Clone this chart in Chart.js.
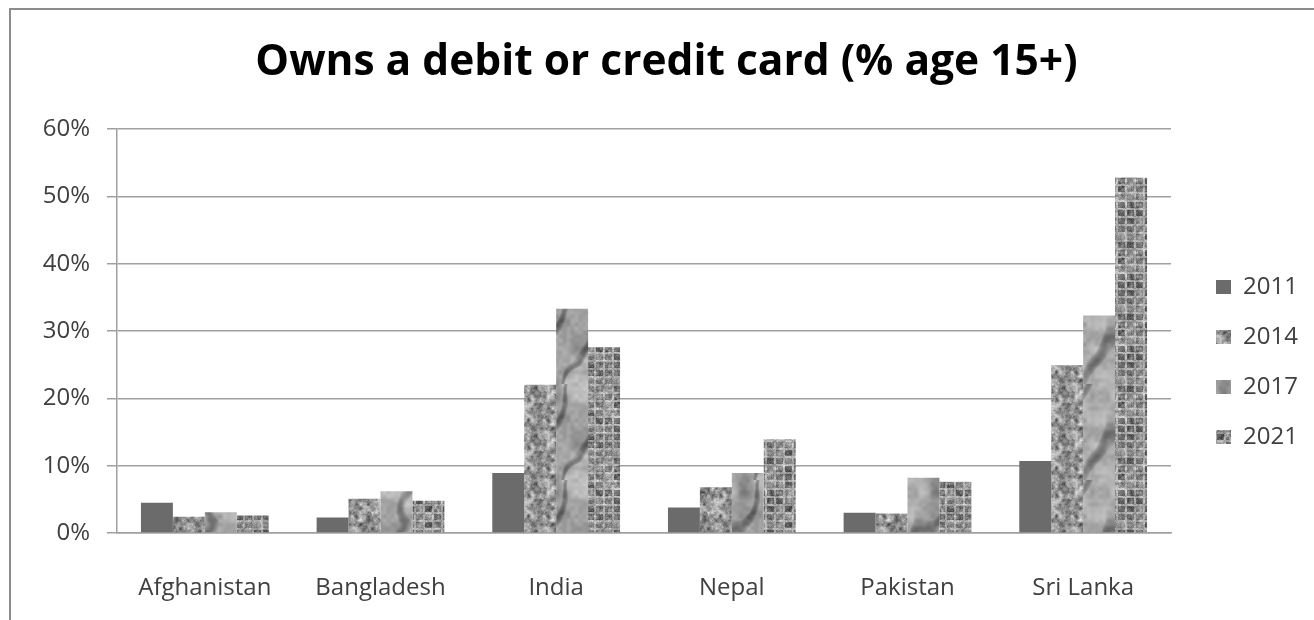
<!DOCTYPE html>
<html><head><meta charset="utf-8">
<script src="https://cdn.jsdelivr.net/npm/chart.js@4/dist/chart.umd.min.js"></script>
<style>html,body{margin:0;padding:0;background:#fff}#wrap{width:1314px;height:620px;position:relative}canvas{display:block}</style>
</head><body><div id="wrap"><canvas id="c" width="1314" height="620"></canvas></div>
<script>
const categories = ['Afghanistan', 'Bangladesh', 'India', 'Nepal', 'Pakistan', 'Sri Lanka'];
const seriesLabels = ['2011', '2014', '2017', '2021'];
const v2011 = [4.5, 2.3, 8.9, 3.8, 3.0, 10.7];
const v2014 = [2.4, 5.1, 22.0, 6.8, 2.9, 24.9];
const v2017 = [3.1, 6.2, 33.3, 8.9, 8.2, 32.3];
const v2021 = [2.6, 4.8, 27.6, 13.9, 7.6, 52.8];
const yTickValues = [0, 10, 20, 30, 40, 50, 60];
const titleText = 'Owns a debit or credit card (% age 15+)';

// ---- deterministic textures (styling only) ----
function hash(x, y, s) {
  let h = (x * 374761393 + y * 668265263 + s * 982451653) | 0;
  h = Math.imul(h ^ (h >>> 13), 1274126177);
  h = h ^ (h >>> 16);
  return (h >>> 0) / 4294967295;
}
function vnoise(x, y, cell, size, seed) {
  const n = size / cell;
  const gx = x / cell, gy = y / cell;
  const x0 = Math.floor(gx), y0 = Math.floor(gy);
  const fx = gx - x0, fy = gy - y0;
  const sx = fx * fx * (3 - 2 * fx), sy = fy * fy * (3 - 2 * fy);
  const w = (a) => ((a % n) + n) % n;
  const a = hash(w(x0), w(y0), seed), b = hash(w(x0 + 1), w(y0), seed);
  const c = hash(w(x0), w(y0 + 1), seed), d = hash(w(x0 + 1), w(y0 + 1), seed);
  return (a * (1 - sx) + b * sx) * (1 - sy) + (c * (1 - sx) + d * sx) * sy;
}
function makeTexture(size, fn) {
  const cv = document.createElement('canvas');
  cv.width = size; cv.height = size;
  const cx = cv.getContext('2d');
  const img = cx.createImageData(size, size);
  for (let y = 0; y < size; y++) for (let x = 0; x < size; x++) {
    let g = Math.max(0, Math.min(255, Math.round(fn(x, y))));
    const i = (y * size + x) * 4;
    img.data[i] = g; img.data[i + 1] = g; img.data[i + 2] = g; img.data[i + 3] = 255;
  }
  cx.putImageData(img, 0, 0);
  return cx.createPattern(cv, 'repeat');
}
const ctx0 = document.getElementById('c').getContext('2d');
const tex2014 = makeTexture(48, (x, y) => {
  const a = vnoise(x, y, 4, 48, 1), b = vnoise(x, y, 2, 48, 2), c = hash(x, y, 3);
  return 148 + (a - 0.5) * 100 + (b - 0.5) * 55 + (c - 0.5) * 28;
});
const tex2017 = makeTexture(96, (x, y) => {
  const a = vnoise(x, y, 24, 96, 4), b = vnoise(x, y, 12, 96, 5), c = vnoise(x, y, 4, 96, 6);
  const streak = Math.sin((x + y * 0.6) / 96 * Math.PI * 4 + a * 6);
  return 170 + (a - 0.5) * 50 + (b - 0.5) * 40 + (c - 0.5) * 22 - Math.max(0, streak - 0.55) * 120;
});
const tex2021 = makeTexture(72, (x, y) => {
  const cw = 9, ch = 8;
  const ix = Math.floor(x / cw), iy = Math.floor(y / ch);
  const cx = x % cw, cy = y % ch;
  const edge = (cx < 2 || cy < 2) ? 1 : 0;
  const cellTone = hash(ix % 8, iy % 9, 9);
  const a = vnoise(x, y, 3, 72, 7), c = hash(x, y, 8);
  return (edge ? 172 : 100 + cellTone * 50) + (a - 0.5) * 70 + (c - 0.5) * 40;
});

// ---- layout helpers ----
const labelFont = { family: '"Open Sans", sans-serif', size: 24 };
const legendPad = 26, legendBoxW = 15, spacerW = 19, padLeft = 25;
ctx0.font = '24px "Open Sans"';
const maxLegendText = Math.max(...seriesLabels.map(s => ctx0.measureText(s).width));
const legendWidth = legendPad + legendBoxW + labelFont.size / 2 + maxLegendText + 10;
const padRight = 1314 - 1171 - spacerW - legendWidth;

const frame = {
  id: 'frame',
  beforeDraw(chart) {
    const c = chart.ctx;
    c.save();
    c.fillStyle = '#fff';
    c.fillRect(0, 0, chart.width, chart.height);
    c.strokeStyle = '#8c8c8c';
    c.lineWidth = 2;
    c.beginPath();
    c.moveTo(10, 620); c.lineTo(10, 9); c.lineTo(1314, 9);
    c.stroke();
    c.restore();
  }
};

new Chart(document.getElementById('c'), {
  type: 'bar',
  data: {
    labels: categories,
    datasets: [
      { label: seriesLabels[0], data: v2011, backgroundColor: '#6b6b6b' },
      { label: seriesLabels[1], data: v2014, backgroundColor: tex2014 },
      { label: seriesLabels[2], data: v2017, backgroundColor: tex2017 },
      { label: seriesLabels[3], data: v2021, backgroundColor: tex2021 }
    ]
  },
  options: {
    responsive: false,
    animation: false,
    devicePixelRatio: 1,
    layout: { padding: { left: padLeft, top: 0, bottom: 0, right: padRight } },
    datasets: { bar: { barPercentage: 1, categoryPercentage: 4 / 5.5, borderWidth: 0 } },
    scales: {
      x: {
        grid: { display: false },
        border: { display: true, color: '#a0a0a0', width: 1.5 },
        ticks: { font: labelFont, color: '#404040', padding: 33, maxRotation: 0 },
        afterFit(s) { s.height = 87; }
      },
      y: {
        min: 0, max: 60,
        afterBuildTicks(s) { s.ticks = yTickValues.map(v => ({ value: v })); },
        grid: { color: '#a0a0a0', lineWidth: 1.5, tickLength: 10, drawTicks: true },
        border: { display: true, color: '#a0a0a0', width: 1.5 },
        ticks: { font: labelFont, color: '#404040', padding: 17, callback: v => v + '%' },
        afterFit(s) { s.width = 117 - padLeft; }
      },
      spacer: {
        type: 'linear', position: 'right', display: true,
        grid: { display: false }, ticks: { display: false }, border: { display: false },
        afterFit(s) { s.width = spacerW; }
      }
    },
    plugins: {
      title: {
        display: true, text: titleText, color: '#000',
        font: { family: '"Open Sans", sans-serif', weight: 'bold', size: 42.5 },
        padding: { top: 37.5, bottom: 40.5 }
      },
      legend: {
        position: 'right', fullSize: false, align: 'center',
        title: { display: true, text: '', font: { size: 10 }, padding: { top: 50, bottom: 0 } },
        labels: { boxWidth: legendBoxW, boxHeight: 14, padding: legendPad, font: labelFont, color: '#404040' }
      },
      tooltip: { enabled: false }
    }
  },
  plugins: [frame]
});
</script></body></html>
